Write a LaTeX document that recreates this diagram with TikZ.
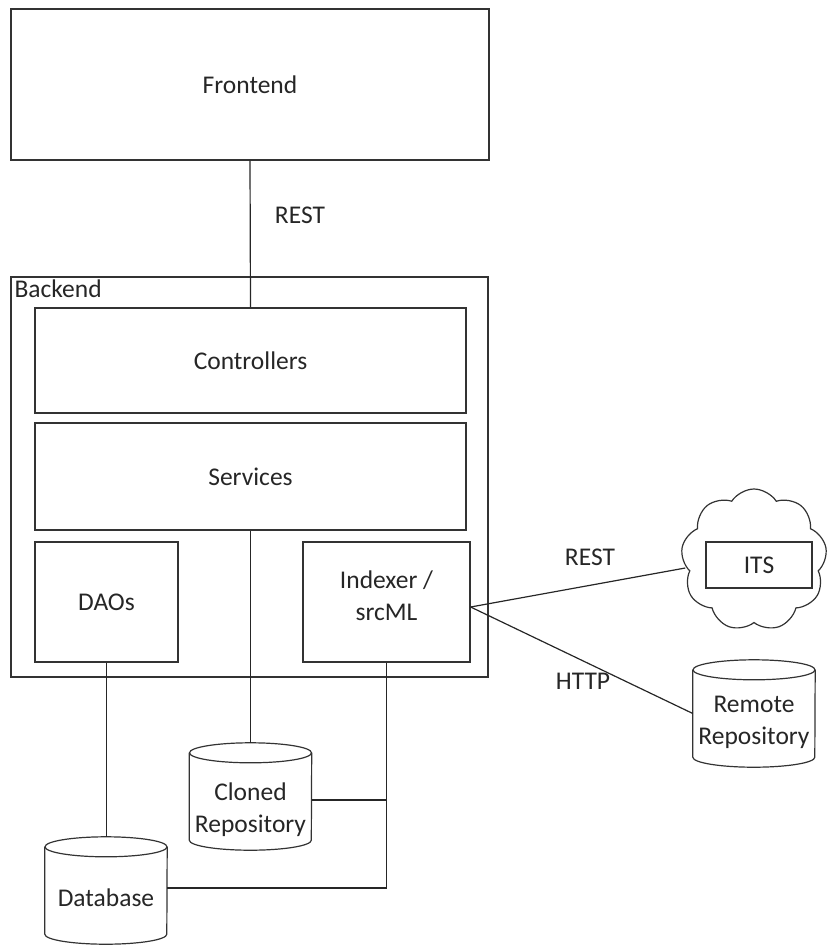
\documentclass[tikz,border=0pt]{standalone}
\usepackage{fontspec}
\setmainfont{Carlito}
\usetikzlibrary{shapes.symbols}
\tikzset{
  every node/.style={font=\fontsize{25.5}{32}\selectfont, text=black!85},
  box/.style={draw=black!80, line width=1.3pt, rectangle, inner sep=0pt},
  link/.style={draw=black!85, line width=1.2pt},
  dbbody/.style={rectangle, inner sep=0pt, minimum width=122pt, minimum height=107pt},
  dbtext/.style={align=center, inner sep=0pt},
  lbl/.style={inner sep=1pt},
}
% cylinder outline around a named node
\newcommand{\dbcyl}[1]{%
  \draw[black!80, line width=1.2pt]
    ([yshift=-10pt]#1.north west) -- ([yshift=10pt]#1.south west)
    arc[start angle=180, end angle=360, x radius=61pt, y radius=10pt]
    -- ([yshift=-10pt]#1.north east);
  \draw[black!80, line width=1.2pt, fill=white] ([yshift=-10pt]#1.north) ellipse[x radius=61pt, y radius=10pt];
}
\begin{document}
\begin{tikzpicture}[x=1pt, y=-1pt]
\useasboundingbox (0,0) rectangle (827,951);

% Frontend
\node[box, minimum width=478pt, minimum height=151pt] (fe) at (250,84.5) {Frontend};

% Backend container
\node[box, minimum width=477pt, minimum height=400pt] (be) at (249.5,477) {};
\node[lbl, anchor=north west, inner xsep=4pt, inner ysep=3pt] (belbl) at (be.north west) {Backend};

% Backend layers
\node[box, minimum width=431pt, minimum height=105pt] (ctl) at (250.5,360.5) {Controllers};
\node[box, minimum width=431pt, minimum height=107pt] (svc) at (250.5,476.5) {Services};
\node[box, minimum width=143pt, minimum height=120pt] (dao) at (106.5,602) {DAOs};
\node[box, minimum width=167pt, minimum height=120pt] (idx) at (386.5,602) {};
\node[dbtext] (idxtxt) at (386.5,596) {Indexer /\\srcML};

% Storage
\node[dbbody] (clone) at (250.5,796.5) {};
\node[dbbody] (db) at (106,890.5) {};
\node[dbbody] (remote) at (754,713.5) {};
\dbcyl{clone}
\dbcyl{db}
\dbcyl{remote}
\node[dbtext] (clonetxt) at (250.5,809.5) {Cloned\\Repository};
\node[dbtext] (dbtxt) at (106,898) {Database};
\node[dbtext] (remotetxt) at (754,722.5) {Remote\\Repository};

% Issue tracker in a cloud
\node[cloud, draw=black!80, line width=1.2pt, cloud puffs=9, cloud puff arc=115, aspect=1.05,
      minimum width=146pt, minimum height=142pt, inner sep=0pt] (cloud) at (754,560) {};
\node[box, minimum width=106pt, minimum height=46pt] (its) at (759,565) {ITS};

% Connectors
\draw[link] (fe.south) -- (ctl.north);
\node[lbl] (restfe) at (300,215) {REST};

\draw[link] (svc.south) -- (svc.south |- clone.north);
\draw[link] (dao.south) -- (dao.south |- db.north);

\coordinate (j1) at (idx.south |- 0,800);
\coordinate (j2) at (idx.south |- 0,888);
\draw[link] (idx.south) -- (j2) -- (db.east |- j2);
\draw[link] (clone.east |- j1) -- (j1);

\coordinate (ie) at ([yshift=-5pt]idx.east);
\draw[link] (ie) -- ([xshift=3pt,yshift=-8pt]cloud.west);
\draw[link] (ie) -- (remote.west);
\node[lbl] (restits) at (590,557) {REST};
\node[lbl] (http) at (583,681) {HTTP};
\end{tikzpicture}
\end{document}
